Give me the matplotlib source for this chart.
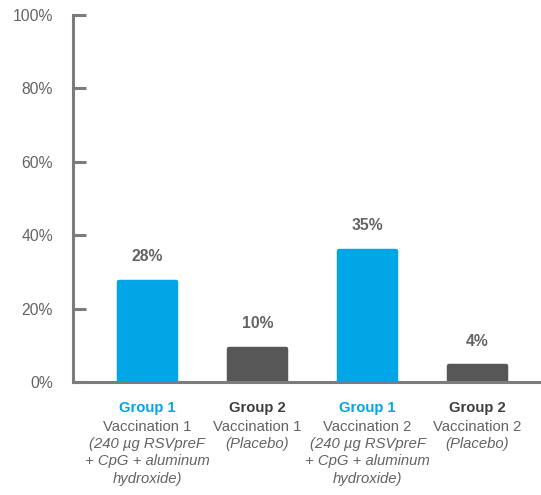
import matplotlib
matplotlib.use("Agg")
import matplotlib.pyplot as plt
from matplotlib.transforms import blended_transform_factory

# data
groups = ["Group 1", "Group 2", "Group 1", "Group 2"]
vaccinations = ["Vaccination 1", "Vaccination 1", "Vaccination 2", "Vaccination 2"]
treatments = ["(240 µg RSVpreF\n+ CpG + aluminum\nhydroxide)", "(Placebo)",
              "(240 µg RSVpreF\n+ CpG + aluminum\nhydroxide)", "(Placebo)"]
heights = [27.3, 9.1, 35.7, 4.3]
value_labels = ["28%", "10%", "35%", "4%"]
yticks = [0, 20, 40, 60, 80, 100]
ytick_labels = ["0%", "20%", "40%", "60%", "80%", "100%"]

blue = "#00a6e6"
dark = "#575757"
axis_grey = "#7c7c7c"
text_grey = "#636363"

plt.rcParams["font.family"] = ["Liberation Sans", "DejaVu Sans"]

W, H = 541, 495
fig = plt.figure(figsize=(W / 100, H / 100), dpi=100)
ax = fig.add_axes([73 / W, 1 - 382 / H, 1 - 73 / W, (382 - 15) / H])

colors = [blue, dark, blue, dark]
x = list(range(len(heights)))
# thick round-joined edge gives the rounded corners
ax.bar(x, heights, width=0.51, color=colors, edgecolor=colors,
       linewidth=3.2, joinstyle="round", zorder=2)

ax.set_xlim(-0.677, 3.577)
ax.set_ylim(0, 100)
ax.set_xticks([])
ax.set_yticks(yticks)
ax.set_yticklabels(ytick_labels, fontsize=11.3, color=text_grey)
ax.tick_params(axis="y", direction="in", length=9.5, width=2.2,
               color=axis_grey, pad=14.5)

for s in ["top", "right"]:
    ax.spines[s].set_visible(False)
for s in ["left", "bottom"]:
    ax.spines[s].set_color(axis_grey)
    ax.spines[s].set_linewidth(2.2)
    ax.spines[s].set_zorder(3)

# value labels above bars
for xi, h, lab in zip(x, heights, value_labels):
    ax.annotate(lab, xy=(xi, h), xytext=(0, 18), textcoords="offset points",
                ha="center", va="center", fontsize=11.3, fontweight="bold",
                color=text_grey)

# category labels under the axis
tr = blended_transform_factory(ax.transData, fig.transFigure)
for xi, g, v, t, c in zip(x, groups, vaccinations, treatments, colors):
    gc = blue if c == blue else "#3f3f3f"
    ax.text(xi, 1 - 408 / H, g, transform=tr, ha="center", va="center",
            fontsize=10.7, fontweight="bold", color=gc, clip_on=False)
    ax.text(xi, 1 - 427 / H, v, transform=tr, ha="center", va="center",
            fontsize=10.7, color=text_grey, clip_on=False)
    ax.text(xi, 1 - 437 / H, t, transform=tr, ha="center", va="top",
            fontsize=10.7, style="italic", color=text_grey,
            linespacing=1.3, clip_on=False)

fig.savefig("out.png", dpi=100)
